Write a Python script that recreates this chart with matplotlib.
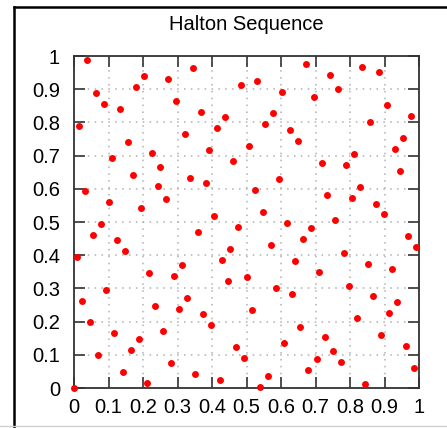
import matplotlib
matplotlib.use("Agg")
import matplotlib.pyplot as plt
from matplotlib.lines import Line2D

plt.rcParams["font.family"] = ["Liberation Sans", "DejaVu Sans"]

# Halton sequence points (bases 2 and 3), indices 0..127
x_vals = [
    0.0, 0.5, 0.25, 0.75, 0.125, 0.625, 0.375, 0.875,
    0.0625, 0.5625, 0.3125, 0.8125, 0.1875, 0.6875, 0.4375, 0.9375,
    0.0313, 0.5313, 0.2813, 0.7813, 0.1563, 0.6563, 0.4063, 0.9063,
    0.0938, 0.5938, 0.3438, 0.8438, 0.2188, 0.7188, 0.4688, 0.9688,
    0.0156, 0.5156, 0.2656, 0.7656, 0.1406, 0.6406, 0.3906, 0.8906,
    0.0781, 0.5781, 0.3281, 0.8281, 0.2031, 0.7031, 0.4531, 0.9531,
    0.0469, 0.5469, 0.2969, 0.7969, 0.1719, 0.6719, 0.4219, 0.9219,
    0.1094, 0.6094, 0.3594, 0.8594, 0.2344, 0.7344, 0.4844, 0.9844,
    0.0078, 0.5078, 0.2578, 0.7578, 0.1328, 0.6328, 0.3828, 0.8828,
    0.0703, 0.5703, 0.3203, 0.8203, 0.1953, 0.6953, 0.4453, 0.9453,
    0.0391, 0.5391, 0.2891, 0.7891, 0.1641, 0.6641, 0.4141, 0.9141,
    0.1016, 0.6016, 0.3516, 0.8516, 0.2266, 0.7266, 0.4766, 0.9766,
    0.0234, 0.5234, 0.2734, 0.7734, 0.1484, 0.6484, 0.3984, 0.8984,
    0.0859, 0.5859, 0.3359, 0.8359, 0.2109, 0.7109, 0.4609, 0.9609,
    0.0547, 0.5547, 0.3047, 0.8047, 0.1797, 0.6797, 0.4297, 0.9297,
    0.1172, 0.6172, 0.3672, 0.8672, 0.2422, 0.7422, 0.4922, 0.9922,
]

y_vals = [
    0.0, 0.3333, 0.6667, 0.1111, 0.4444, 0.7778, 0.2222, 0.5556, 0.8889,
    0.0370, 0.3704, 0.7037, 0.1481, 0.4815, 0.8148, 0.2593, 0.5926, 0.9259,
    0.0741, 0.4074, 0.7407, 0.1852, 0.5185, 0.8519, 0.2963, 0.6296, 0.9630,
    0.0123, 0.3457, 0.6790, 0.1235, 0.4568, 0.7901, 0.2346, 0.5679, 0.9012,
    0.0494, 0.3827, 0.7160, 0.1605, 0.4938, 0.8272, 0.2716, 0.6049, 0.9383,
    0.0864, 0.4198, 0.7531, 0.1975, 0.5309, 0.8642, 0.3086, 0.6420, 0.9753,
    0.0247, 0.3580, 0.6914, 0.1358, 0.4691, 0.8025, 0.2469, 0.5802, 0.9136,
    0.0617, 0.3951, 0.7284, 0.1728, 0.5062, 0.8395, 0.2840, 0.6173, 0.9506,
    0.0988, 0.4321, 0.7654, 0.2099, 0.5432, 0.8765, 0.3210, 0.6543, 0.9877,
    0.0041, 0.3374, 0.6708, 0.1152, 0.4486, 0.7819, 0.2263, 0.5597, 0.8930,
    0.0412, 0.3745, 0.7078, 0.1523, 0.4856, 0.8189, 0.2634, 0.5967, 0.9300,
    0.0782, 0.4115, 0.7449, 0.1893, 0.5226, 0.8560, 0.3004, 0.6337, 0.9671,
    0.0165, 0.3498, 0.6831, 0.1276, 0.4609, 0.7942, 0.2387, 0.5720, 0.9053,
    0.0535, 0.3868, 0.7202, 0.1646, 0.4979, 0.8313, 0.2757, 0.6091, 0.9424,
    0.0905, 0.4239,
]

ticks = [0, 0.1, 0.2, 0.3, 0.4, 0.5, 0.6, 0.7, 0.8, 0.9, 1]
tick_labels = ["0", "0.1", "0.2", "0.3", "0.4", "0.5", "0.6", "0.7", "0.8", "0.9", "1"]

fig = plt.figure(figsize=(4.47, 4.28), dpi=100)
ax = fig.add_axes([74 / 447, 40 / 428, 345 / 447, 332 / 428])

ax.plot(x_vals, y_vals, "o", color="#ff0000", markersize=5,
        markeredgewidth=0, clip_on=False, zorder=3)

ax.set_xlim(0, 1)
ax.set_ylim(0, 1)
ax.set_xticks(ticks)
ax.set_yticks(ticks)
ax.set_xticklabels(tick_labels)
ax.set_yticklabels(tick_labels)
ax.tick_params(direction="in", length=8, width=1.2, color="#333333",
               top=True, right=True, labelsize=14.5, pad=7)
ax.tick_params(axis="y", pad=10)
ax.grid(True, color="#b0b0b0", linestyle=(0, (1, 3.5)), linewidth=1.1)
ax.set_axisbelow(True)
for s in ax.spines.values():
    s.set_color("#333333")
    s.set_linewidth(1.3)

ax.set_title("Halton Sequence", fontsize=14.5, pad=19)

# outer frame of the screenshot
fig.add_artist(Line2D([13.5 / 447, 13.5 / 447], [0, 1 - 7 / 428],
                      transform=fig.transFigure, color="black", linewidth=1.8))
fig.add_artist(Line2D([13.5 / 447, 1], [1 - 7 / 428, 1 - 7 / 428],
                      transform=fig.transFigure, color="black", linewidth=1.8))
fig.add_artist(Line2D([0, 1], [2 / 428, 2 / 428],
                      transform=fig.transFigure, color="#d0d0d0", linewidth=1))

fig.savefig("out.png", dpi=100)
